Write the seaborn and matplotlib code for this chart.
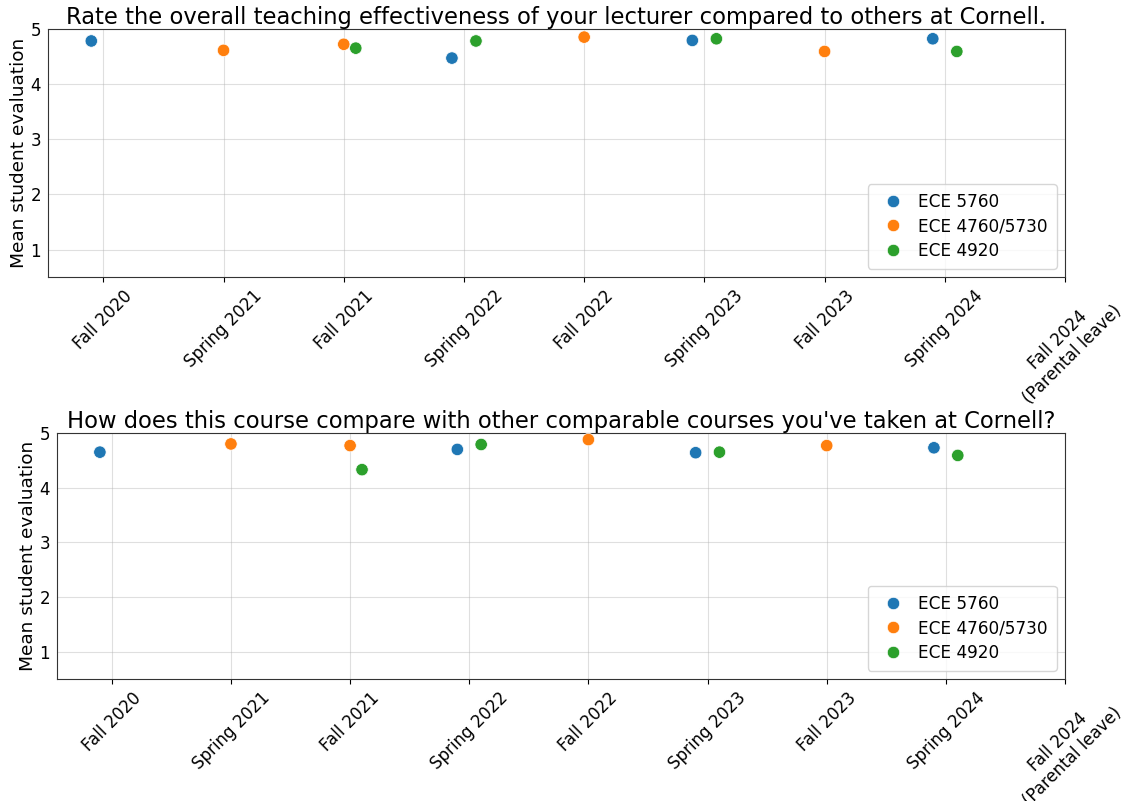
import matplotlib
matplotlib.use("Agg")
import matplotlib.pyplot as plt
import seaborn as sns
import pandas as pd

semesters = ["Fall 2020", "Spring 2021", "Fall 2021", "Spring 2022", "Fall 2022",
             "Spring 2023", "Fall 2023", "Spring 2024", "Fall 2024\n(Parental leave)"]
courses = ["ECE 5760", "ECE 4760/5730", "ECE 4920"]

# semester index each course was taught in
sem_5760 = [0, 3, 5, 7]
sem_4760 = [1, 2, 4, 6]
sem_4920 = [2, 3, 5, 7]

# Q1: overall teaching effectiveness
q1_5760 = [4.78, 4.47, 4.79, 4.82]
q1_4760 = [4.61, 4.72, 4.85, 4.59]
q1_4920 = [4.65, 4.78, 4.82, 4.59]

# Q2: course compared with other courses
q2_5760 = [4.65, 4.70, 4.64, 4.73]
q2_4760 = [4.80, 4.77, 4.88, 4.77]
q2_4920 = [4.33, 4.79, 4.65, 4.59]

titles = ["Rate the overall teaching effectiveness of your lecturer compared to others at Cornell.",
          "How does this course compare with other comparable courses you've taken at Cornell?"]

offsets = {"ECE 5760": -0.1, "ECE 4760/5730": 0.0, "ECE 4920": 0.1}


def build(vals):
    rows = []
    for course, sems, v in zip(courses, [sem_5760, sem_4760, sem_4920], vals):
        for s, y in zip(sems, v):
            rows.append({"pos": s + offsets[course], "course": course, "score": y})
    return pd.DataFrame(rows)


data = [build([q1_5760, q1_4760, q1_4920]), build([q2_5760, q2_4760, q2_4920])]

fig, axes = plt.subplots(2, 1, figsize=(11.22, 8.01), dpi=100)
# axes boxes as in the original layout (left, bottom, width, height)
positions = [[0.0428, 0.654, 0.9064, 0.310], [0.0508, 0.1523, 0.8984, 0.3071]]

for ax, df, title, pos in zip(axes, data, titles, positions):
    ax.set_position(pos)
    sns.scatterplot(data=df, x="pos", y="score", hue="course", hue_order=courses,
                    palette=["#1f77b4", "#ff7f0e", "#2ca02c"], s=80,
                    edgecolor="white", linewidth=0.5, ax=ax, zorder=3)
    ax.set_xticks(range(len(semesters)))
    ax.set_xticklabels(semesters, rotation=45, fontsize=12)
    ax.set_xlim(-0.46, 8)
    ax.set_ylim(0.5, 5)
    ax.set_yticks([1, 2, 3, 4, 5])
    ax.tick_params(axis="y", labelsize=12, length=0, pad=5)
    ax.set_xlabel("")
    ax.set_ylabel("Mean student evaluation", fontsize=13.3, labelpad=2)
    ax.set_title(title, fontsize=16.3, pad=3)
    ax.grid(alpha=0.4)
    for sp in ax.spines.values():
        sp.set_color("#333333")
    ax.legend(loc="lower right", fontsize=12.2, borderpad=0.5,
              labelspacing=0.4, handletextpad=0.5)

plt.savefig("out.png", dpi=100)
